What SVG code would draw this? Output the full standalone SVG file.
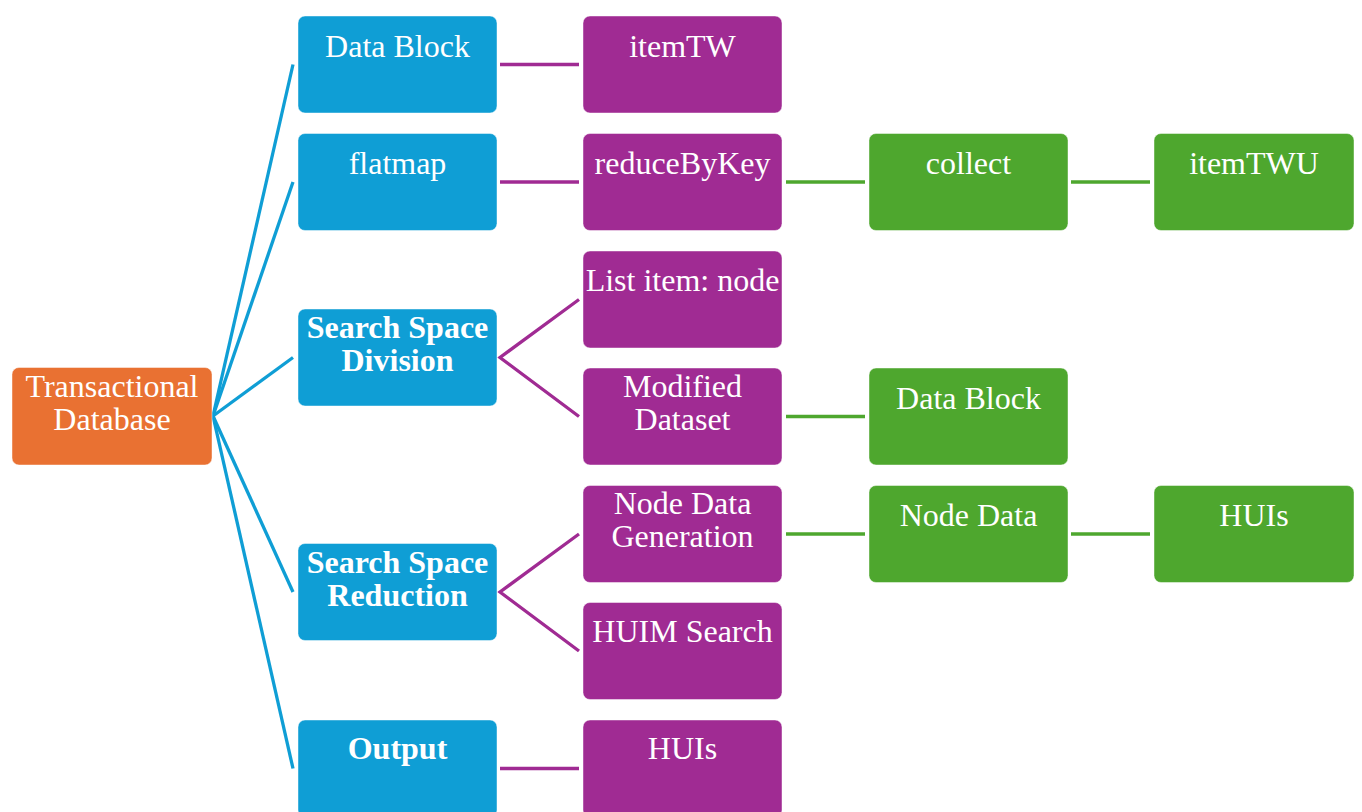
<svg xmlns="http://www.w3.org/2000/svg" width="1362" height="812" viewBox="0 0 1362 812">
<style>
.box{stroke:#ffffff;stroke-opacity:0.45;stroke-width:1}
.or{fill:#E97132}.bl{fill:#0F9ED5}.pu{fill:#A02B93}.gr{fill:#4EA72E}
text{font-family:"Liberation Serif","Times New Roman",serif;font-size:32px;fill:#ffffff;text-anchor:middle}
.b{font-weight:bold}
.cb{stroke:#0F9ED5;stroke-width:3.3;fill:none}
.cp{stroke:#A02B93;stroke-width:3.3;fill:none}
.cg{stroke:#4EA72E;stroke-width:3.3;fill:none}
</style>
<rect width="1362" height="812" fill="#ffffff"/>
<g id="connectors">
<line class="cb" x1="213" y1="416" x2="293" y2="64.5"/>
<line class="cb" x1="213" y1="416" x2="293" y2="182"/>
<line class="cb" x1="213" y1="416" x2="293" y2="357.5"/>
<line class="cb" x1="213" y1="416" x2="293" y2="592"/>
<line class="cb" x1="213" y1="416" x2="293" y2="768.5"/>
<line class="cp" x1="500" y1="64.5" x2="579" y2="64.5"/>
<line class="cp" x1="500" y1="182" x2="579" y2="182"/>
<polyline class="cp" points="579,299.5 500,357.5 579,416.5"/>
<polyline class="cp" points="579,534 500,592 579,651"/>
<line class="cp" x1="500" y1="768.5" x2="579" y2="768.5"/>
<line class="cg" x1="786" y1="182" x2="865" y2="182"/>
<line class="cg" x1="1071" y1="182" x2="1150" y2="182"/>
<line class="cg" x1="786" y1="416.5" x2="865" y2="416.5"/>
<line class="cg" x1="786" y1="534" x2="865" y2="534"/>
<line class="cg" x1="1071" y1="534" x2="1150" y2="534"/>
</g>
<g id="root"><rect class="box or" x="12" y="367.5" width="200" height="97.5" rx="7"/><text x="112" y="397">Transactional</text><text x="112" y="430">Database</text></g>
<g id="b-datablock"><rect class="box bl" x="298" y="16" width="199" height="97" rx="7"/><text x="397.5" y="57">Data Block</text></g>
<g id="b-flatmap"><rect class="box bl" x="298" y="133.5" width="199" height="97" rx="7"/><text x="397.5" y="174">flatmap</text></g>
<g id="b-ssd"><rect class="box bl" x="298" y="309" width="199" height="97" rx="7"/><text class="b" x="397.5" y="338">Search Space</text><text class="b" x="397.5" y="371">Division</text></g>
<g id="b-ssr"><rect class="box bl" x="298" y="543.5" width="199" height="97" rx="7"/><text class="b" x="397.5" y="573">Search Space</text><text class="b" x="397.5" y="606">Reduction</text></g>
<g id="b-output"><rect class="box bl" x="298" y="720" width="199" height="97" rx="7"/><text class="b" x="397.5" y="759">Output</text></g>
<g id="p-itemtw"><rect class="box pu" x="583" y="16" width="199" height="97" rx="7"/><text x="682.5" y="57">itemTW</text></g>
<g id="p-reducebykey"><rect class="box pu" x="583" y="133.5" width="199" height="97" rx="7"/><text x="682.5" y="174">reduceByKey</text></g>
<g id="p-listitem"><rect class="box pu" x="583" y="251" width="199" height="97" rx="7"/><text x="682.5" y="291">List item: node</text></g>
<g id="p-modified"><rect class="box pu" x="583" y="368" width="199" height="97" rx="7"/><text x="682.5" y="397">Modified</text><text x="682.5" y="430">Dataset</text></g>
<g id="p-nodedatagen"><rect class="box pu" x="583" y="485.5" width="199" height="97" rx="7"/><text x="682.5" y="514">Node Data</text><text x="682.5" y="547">Generation</text></g>
<g id="p-huimsearch"><rect class="box pu" x="583" y="602.5" width="199" height="97" rx="7"/><text x="682.5" y="642">HUIM Search</text></g>
<g id="p-huis"><rect class="box pu" x="583" y="720" width="199" height="97" rx="7"/><text x="682.5" y="759">HUIs</text></g>
<g id="g-collect"><rect class="box gr" x="869" y="133.5" width="199" height="97" rx="7"/><text x="968.5" y="174">collect</text></g>
<g id="g-itemtwu"><rect class="box gr" x="1154" y="133.5" width="200" height="97" rx="7"/><text x="1254" y="174">itemTWU</text></g>
<g id="g-datablock"><rect class="box gr" x="869" y="368" width="199" height="97" rx="7"/><text x="968.5" y="409">Data Block</text></g>
<g id="g-nodedata"><rect class="box gr" x="869" y="485.5" width="199" height="97" rx="7"/><text x="968.5" y="526">Node Data</text></g>
<g id="g-huis"><rect class="box gr" x="1154" y="485.5" width="200" height="97" rx="7"/><text x="1254" y="526">HUIs</text></g>
</svg>
